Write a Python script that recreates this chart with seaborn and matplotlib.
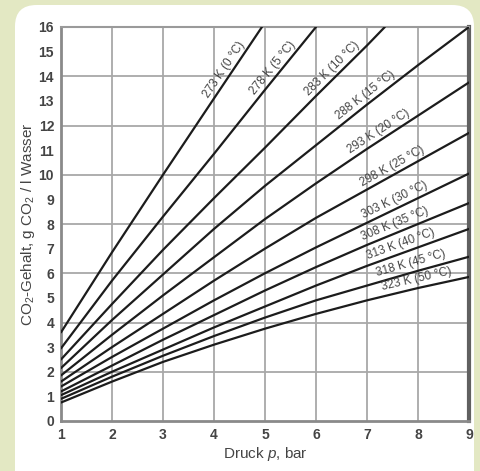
import numpy as np
import pandas as pd
import seaborn as sns
import matplotlib.pyplot as plt
from matplotlib.patches import FancyBboxPatch

# Temperaturen der Kurven
temp_k = [273, 278, 283, 288, 293, 298, 303, 308, 313, 318, 323]
temp_c = [0, 5, 10, 15, 20, 25, 30, 35, 40, 45, 50]

# Druck (bar) und CO2-Gehalt (g/l) je Kurve
druck_273 = [1, 2, 3, 4, 4.94]
gehalt_273 = [3.6, 6.85, 10.0, 13.1, 16.0]
druck_278 = [1, 2, 3, 4, 5, 6.0]
gehalt_278 = [2.95, 5.7, 8.3, 10.85, 13.45, 16.0]
druck_283 = [1, 2, 3, 4, 5, 6, 7, 7.35]
gehalt_283 = [2.5, 4.75, 6.95, 9.05, 11.1, 13.2, 15.25, 16.0]
druck_voll = [1, 2, 3, 4, 5, 6, 7, 8, 9]
gehalt_288 = [2.15, 4.1, 5.95, 7.8, 9.55, 11.2, 12.85, 14.45, 16.0]
gehalt_293 = [1.85, 3.5, 5.1, 6.65, 8.2, 9.65, 11.05, 12.4, 13.75]
gehalt_298 = [1.6, 3.0, 4.35, 5.7, 7.0, 8.25, 9.4, 10.55, 11.7]
gehalt_303 = [1.4, 2.6, 3.75, 4.9, 6.0, 7.05, 8.05, 9.05, 10.05]
gehalt_308 = [1.2, 2.25, 3.3, 4.3, 5.3, 6.25, 7.15, 8.0, 8.85]
gehalt_313 = [1.05, 2.0, 2.9, 3.8, 4.65, 5.5, 6.3, 7.05, 7.8]
gehalt_318 = [0.9, 1.8, 2.65, 3.45, 4.2, 4.9, 5.5, 6.1, 6.67]
gehalt_323 = [0.75, 1.6, 2.4, 3.1, 3.75, 4.35, 4.9, 5.4, 5.85]

kurven = {
    273: (druck_273, gehalt_273), 278: (druck_278, gehalt_278),
    283: (druck_283, gehalt_283), 288: (druck_voll, gehalt_288),
    293: (druck_voll, gehalt_293), 298: (druck_voll, gehalt_298),
    303: (druck_voll, gehalt_303), 308: (druck_voll, gehalt_308),
    313: (druck_voll, gehalt_313), 318: (druck_voll, gehalt_318),
    323: (druck_voll, gehalt_323),
}

# Position der Beschriftung entlang der Kurve (Druck)
label_p = [4.3, 5.25, 6.4, 7.05, 7.3, 7.55, 7.6, 7.6, 7.7, 7.9, 8.0]

rows = []
for k in temp_k:
    for p, g in zip(*kurven[k]):
        rows.append({'temp': k, 'druck': p, 'gehalt': g})
df = pd.DataFrame(rows)

sns.set_style("white")
plt.rcParams['font.family'] = ['Liberation Sans', 'DejaVu Sans']
plt.rcParams['mathtext.fontset'] = 'custom'
plt.rcParams['mathtext.rm'] = 'Liberation Sans'
plt.rcParams['mathtext.it'] = 'Liberation Sans:italic'

fig = plt.figure(figsize=(4.81, 4.71), dpi=100, facecolor='#e3e8c3')
fig.patches.append(FancyBboxPatch((15 / 481, -0.05), 459 / 481, 1.05 - 5 / 471,
                                  boxstyle="round,pad=0,rounding_size=0.045",
                                  transform=fig.transFigure, facecolor='white',
                                  edgecolor='none', zorder=-5))

ax = fig.add_axes([61 / 481, 1 - 421 / 471, 408 / 481, 394 / 471])
ax.set_facecolor('white')

# Gitter
for x in range(2, 9):
    ax.axvline(x, color='#a8a8a8', lw=1.3, zorder=1)
for y in range(2, 16, 2):
    ax.axhline(y, color='#a8a8a8', lw=1.3, zorder=1)

sns.lineplot(data=df, x='druck', y='gehalt', units='temp', estimator=None,
             color='#1c1c1c', linewidth=1.6, ax=ax, zorder=3, legend=False)

ax.set_xlim(1, 9)
ax.set_ylim(0, 16)
ax.set_xticks(range(1, 10))
ax.set_yticks(range(0, 17))
ax.tick_params(length=0, pad=5, labelsize=10, labelcolor='#444444')
for t in ax.get_xticklabels() + ax.get_yticklabels():
    t.set_fontweight('bold')

for side in ['left', 'bottom']:
    ax.spines[side].set_color('#8a8a8a')
    ax.spines[side].set_linewidth(2)
ax.spines['top'].set_color('#9a9a9a')
ax.spines['top'].set_linewidth(1.5)
ax.spines['right'].set_color('#606060')
ax.spines['right'].set_linewidth(3)

ax.set_xlabel("Druck $p$, bar", fontsize=11, color='#444444', labelpad=2)
ax.set_ylabel("CO$_2$-Gehalt, g CO$_2$ / l Wasser", fontsize=11,
              color='#444444', labelpad=1)

# Kurvenbeschriftungen entlang der Linien
for k, c, pl in zip(temp_k, temp_c, label_p):
    d, g = kurven[k]
    yl = np.interp(pl, d, g)
    a = ax.transData.transform((pl - 0.2, np.interp(pl - 0.2, d, g)))
    b = ax.transData.transform((pl + 0.2, np.interp(pl + 0.2, d, g)))
    winkel = np.degrees(np.arctan2(b[1] - a[1], b[0] - a[0]))
    ax.annotate(f"{k} K ({c} °C)", xy=(pl, yl), xytext=(0, 2),
                textcoords='offset points', rotation=winkel,
                rotation_mode='anchor', ha='center', va='bottom',
                fontsize=8.5, color='#444444', zorder=4)

fig.savefig('out.png', dpi=100, facecolor=fig.get_facecolor())
